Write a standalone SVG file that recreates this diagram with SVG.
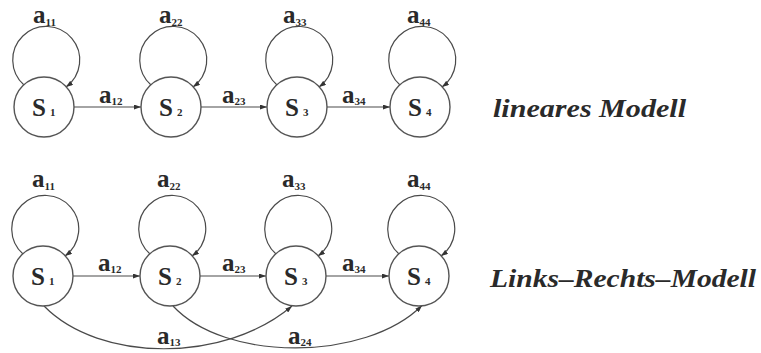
<svg xmlns="http://www.w3.org/2000/svg" width="761" height="353" viewBox="0 0 761 353">
  <style>
    .node { fill: #ffffff; stroke: #555555; stroke-width: 1.4; }
    .edge { fill: none; stroke: #4a4a4a; stroke-width: 1.2; marker-end: url(#tip); }
    .lbl { font-family: "Liberation Serif", "Times New Roman", serif; font-weight: bold; font-size: 25px; fill: #2a2a2a; }
    .sub { font-size: 11px; }
    .title { font-family: "Liberation Serif", "Times New Roman", serif; font-weight: bold; font-style: italic; font-size: 25px; fill: #2a2a2a; }
  </style>
  <defs>
    <marker id="tip" viewBox="0 0 7 5" refX="7" refY="2.5" markerWidth="7" markerHeight="5" markerUnits="userSpaceOnUse" orient="auto">
      <path d="M0,0 L7,2.5 L0,5 z" fill="#333333"/>
    </marker>
  </defs>

  <rect width="761" height="353" fill="#ffffff"/>

  <!-- connectors: self-loops, forward transitions, skip transitions -->
  <g id="connectors">
    <!-- linear model (row 1, cy = 107) -->
    <path class="edge" d="M24,85 A33.5,33.5 0 1 1 66,87"/>
    <path class="edge" d="M151,85 A33.5,33.5 0 1 1 193,87"/>
    <path class="edge" d="M277,85 A33.5,33.5 0 1 1 319,87"/>
    <path class="edge" d="M400,85 A33.5,33.5 0 1 1 442,87"/>
    <path class="edge" d="M74,107 L141,107"/>
    <path class="edge" d="M201,107 L267,107"/>
    <path class="edge" d="M327,107 L390,107"/>

    <!-- left-right model (row 2, cy = 276) -->
    <path class="edge" d="M23,254 A33.5,33.5 0 1 1 65,256"/>
    <path class="edge" d="M150,254 A33.5,33.5 0 1 1 192,256"/>
    <path class="edge" d="M276,254 A33.5,33.5 0 1 1 318,256"/>
    <path class="edge" d="M399,254 A33.5,33.5 0 1 1 441,256"/>
    <path class="edge" d="M73,276 L140,276"/>
    <path class="edge" d="M200,276 L266,276"/>
    <path class="edge" d="M326,276 L389,276"/>
    <path class="edge" d="M44,306 C100,363 225,363 292,306"/>
    <path class="edge" d="M173,306 C225,362 365,362 422,305.5"/>
  </g>

  <!-- linear model states -->
  <g id="lin-s1"><circle class="node" cx="44" cy="107" r="30"/><text class="lbl" x="32" y="116">S<tspan class="sub" dx="4">1</tspan></text></g>
  <g id="lin-s2"><circle class="node" cx="171" cy="107" r="30"/><text class="lbl" x="159" y="116">S<tspan class="sub" dx="4">2</tspan></text></g>
  <g id="lin-s3"><circle class="node" cx="297" cy="107" r="30"/><text class="lbl" x="285" y="116">S<tspan class="sub" dx="4">3</tspan></text></g>
  <g id="lin-s4"><circle class="node" cx="420" cy="107" r="30"/><text class="lbl" x="408" y="116">S<tspan class="sub" dx="4">4</tspan></text></g>

  <!-- left-right model states -->
  <g id="lr-s1"><circle class="node" cx="43" cy="276" r="30"/><text class="lbl" x="31" y="285">S<tspan class="sub" dx="4">1</tspan></text></g>
  <g id="lr-s2"><circle class="node" cx="170" cy="276" r="30"/><text class="lbl" x="158" y="285">S<tspan class="sub" dx="4">2</tspan></text></g>
  <g id="lr-s3"><circle class="node" cx="296" cy="276" r="30"/><text class="lbl" x="284" y="285">S<tspan class="sub" dx="4">3</tspan></text></g>
  <g id="lr-s4"><circle class="node" cx="419" cy="276" r="30"/><text class="lbl" x="407" y="285">S<tspan class="sub" dx="4">4</tspan></text></g>

  <!-- transition labels -->
  <g id="labels">
    <text class="lbl" x="33" y="23">a<tspan class="sub" dy="3">11</tspan></text>
    <text class="lbl" x="159" y="23">a<tspan class="sub" dy="3">22</tspan></text>
    <text class="lbl" x="283" y="23">a<tspan class="sub" dy="3">33</tspan></text>
    <text class="lbl" x="407" y="23">a<tspan class="sub" dy="3">44</tspan></text>
    <text class="lbl" x="99" y="103">a<tspan class="sub" dy="2">12</tspan></text>
    <text class="lbl" x="222" y="103">a<tspan class="sub" dy="2">23</tspan></text>
    <text class="lbl" x="342" y="103">a<tspan class="sub" dy="2">34</tspan></text>

    <text class="lbl" x="32" y="187">a<tspan class="sub" dy="3">11</tspan></text>
    <text class="lbl" x="157" y="187">a<tspan class="sub" dy="3">22</tspan></text>
    <text class="lbl" x="282" y="187">a<tspan class="sub" dy="3">33</tspan></text>
    <text class="lbl" x="407" y="187">a<tspan class="sub" dy="3">44</tspan></text>
    <text class="lbl" x="98" y="271">a<tspan class="sub" dy="2">12</tspan></text>
    <text class="lbl" x="222" y="271">a<tspan class="sub" dy="2">23</tspan></text>
    <text class="lbl" x="342" y="271">a<tspan class="sub" dy="2">34</tspan></text>
    <text class="lbl" x="157" y="344">a<tspan class="sub" dy="2">13</tspan></text>
    <text class="lbl" x="288" y="344">a<tspan class="sub" dy="2">24</tspan></text>
  </g>

  <!-- model names -->
  <text class="title" x="493" y="117" textLength="193" lengthAdjust="spacingAndGlyphs">lineares Modell</text>
  <text class="title" x="490" y="287" textLength="266" lengthAdjust="spacingAndGlyphs">Links–Rechts–Modell</text>
</svg>
